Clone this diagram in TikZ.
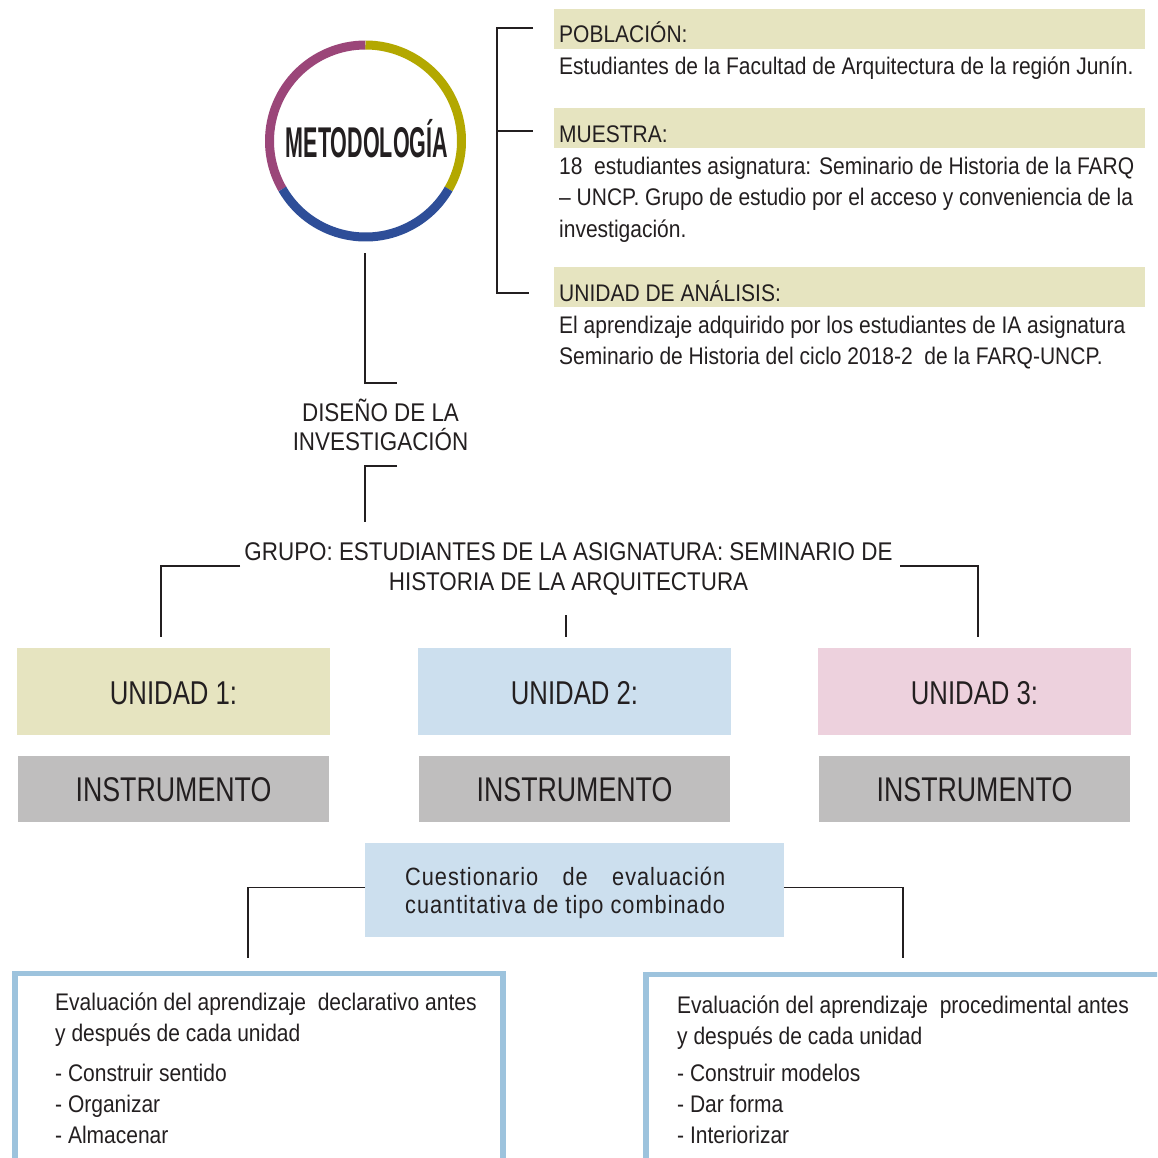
\documentclass[tikz,border=0pt]{standalone}
\usepackage{fontspec}
\setmainfont{Liberation Sans}[FakeStretch=0.875]
\newfontfamily\unifont{Liberation Sans}[FakeStretch=0.78]
\newfontfamily\metfont{Liberation Sans Bold}[FakeStretch=0.5]
\newfontfamily\cuefont{Liberation Sans}[FakeStretch=0.87,LetterSpace=4]
\definecolor{txt}{HTML}{231F20}
\definecolor{olivebg}{HTML}{E6E4C0}
\definecolor{bluebg}{HTML}{CCDFEE}
\definecolor{pinkbg}{HTML}{EDD1DD}
\definecolor{graybg}{HTML}{BFBEBE}
\definecolor{frameblue}{HTML}{9DC3DD}
\definecolor{ringpurple}{HTML}{9B4679}
\definecolor{ringyellow}{HTML}{B3A800}
\definecolor{ringblue}{HTML}{2E4E98}
\tikzset{
  body/.style={inner sep=0pt, anchor=base west, text=txt, font=\fontsize{24}{31}\selectfont},
  caps/.style={inner sep=0pt, anchor=base, text=txt, font=\fontsize{25.6}{30}\selectfont},
  bigtxt/.style={inner sep=0pt, anchor=base, text=txt, font=\unifont\fontsize{33}{33}\selectfont},
  insttxt/.style={inner sep=0pt, anchor=base, text=txt, font=\unifont\fontsize{34.3}{34}\selectfont},
  bar/.style={fill=olivebg, draw=none, inner sep=0pt, anchor=north west, minimum width=591pt, minimum height=40pt},
  unibox/.style={draw=none, inner sep=0pt, anchor=north west, minimum width=313pt, minimum height=87pt},
  instbox/.style={fill=graybg, draw=none, inner sep=0pt, anchor=north west, minimum width=311pt, minimum height=66pt},
  framebox/.style={draw=frameblue, line width=5.5pt, fill=none, inner sep=0pt, anchor=north west},
  conn/.style={draw=txt, line width=1.2pt},
  ring/.style={line width=9pt}
}
\begin{document}
\begin{tikzpicture}[x=1pt,y=-1pt]
\useasboundingbox (0,0) rectangle (1157,1158);
\clip (0,0) rectangle (1157,1158);
\fill[white] (0,0) rectangle (1157,1158);

% ---- circle
\node[circle, minimum size=192pt, inner sep=0pt] (met) at (365.5,141) {};
\draw[ring, ringpurple] ([shift={(-90:96)}]met.center) arc[start angle=-90, end angle=-210, radius=96];
\draw[ring, ringyellow] ([shift={(30:96)}]met.center) arc[start angle=30, end angle=-90, radius=96];
\draw[ring, ringblue] ([shift={(-210:96)}]met.center) arc[start angle=-210, end angle=-330, radius=96];
\node[inner sep=0pt, anchor=base, text=txt, font=\metfont\fontsize{43}{43}\selectfont] (mettxt) at (367,158) {METODOLOGÍA};

% ---- top right bracket
\node[bar] (pobbar) at (554,9) {};
\node[bar] (muebar) at (554,108) {};
\node[bar] (unabar) at (554,267) {};
\coordinate (brT) at (533,28);
\coordinate (brM) at (533,131);
\coordinate (brB) at (529,293);
\coordinate (brV) at (497,28);
\draw[conn] (brT) -- (brV) -- (brV |- brB) -- (brB);
\draw[conn] (brV |- brM) -- (brM);

\node[body] (pob) at (559,43) {POBLACIÓN:};
\node[body] (pob1) at (559,75) {Estudiantes de la Facultad de Arquitectura de la región Junín.};
\node[body] (mue) at (559,143) {MUESTRA:};
\node[body] (mue1) at (559,175) {18~ estudiantes asignatura: Seminario de Historia de la FARQ};
\node[body] (mue2) at (559,206) {– UNCP. Grupo de estudio por el acceso y conveniencia de la};
\node[body] (mue3) at (559,237) {investigación.};
\node[body] (una) at (559,301) {UNIDAD DE ANÁLISIS:};
\node[body] (una1) at (559,333) {El aprendizaje adquirido por los estudiantes de IA asignatura};
\node[body] (una2) at (559,364) {Seminario de Historia del ciclo 2018-2~ de la FARQ-UNCP.};

% ---- diseño
\coordinate (c1a) at (365,253);
\coordinate (c1b) at (397,383);
\draw[conn] (c1a) |- (c1b);
\node[caps] (dis1) at (380.5,421) {DISEÑO DE LA};
\node[caps] (dis2) at (380.5,450) {INVESTIGACIÓN};
\coordinate (c2a) at (397,466);
\coordinate (c2b) at (365,522);
\draw[conn] (c2a) -| (c2b);

% ---- grupo
\node[caps] (gr1) at (568.5,560.5) {GRUPO: ESTUDIANTES DE LA ASIGNATURA: SEMINARIO DE};
\node[caps] (gr2) at (568.5,590.5) {HISTORIA DE LA ARQUITECTURA};
\coordinate (gL) at (240,566);
\coordinate (gR) at (900,566);
\coordinate (gLd) at (161,637);
\coordinate (gRd) at (978,637);
\coordinate (gM) at (566,615);
\coordinate (gMd) at (566,637);
\draw[conn] (gL) -| (gLd);
\draw[conn] (gR) -| (gRd);
\draw[conn] (gM) -- (gMd);

% ---- unidades
\node[unibox, fill=olivebg] (u1) at (17,648) {};
\node[unibox, fill=bluebg] (u2) at (418,648) {};
\node[unibox, fill=pinkbg] (u3) at (818,648) {};
\node[bigtxt] (u1t) at (173.5,704) {UNIDAD 1:};
\node[bigtxt] (u2t) at (574.5,704) {UNIDAD 2:};
\node[bigtxt] (u3t) at (974.5,704) {UNIDAD 3:};

\node[instbox] (i1) at (18,756) {};
\node[instbox] (i2) at (419,756) {};
\node[instbox] (i3) at (819,756) {};
\node[insttxt] (i1t) at (173.5,801.5) {INSTRUMENTO};
\node[insttxt] (i2t) at (574.5,801.5) {INSTRUMENTO};
\node[insttxt] (i3t) at (974.5,801.5) {INSTRUMENTO};

% ---- cuestionario
\node[fill=bluebg, inner sep=0pt, anchor=north west, minimum width=419pt, minimum height=94pt] (cue) at (365,843) {};
\node[inner sep=0pt, anchor=base west, text=txt, font=\cuefont\fontsize{25}{28}\selectfont] (cue1) at (405,885) {\hbox to 320pt{Cuestionario\hfill de\hfill evaluación}};
\node[inner sep=0pt, anchor=base west, text=txt, font=\cuefont\fontsize{25}{28}\selectfont] (cue2) at (405,913) {cuantitativa de tipo combinado};
\coordinate (qLd) at (248,958);
\coordinate (qRd) at (903,958);
\draw[conn] ([yshift=3pt]cue.west) -| (qLd);
\draw[conn] ([yshift=3pt]cue.east) -| (qRd);

% ---- bottom frames
\node[framebox, minimum width=488pt, minimum height=300pt] (evl) at (12,970.5) {};
\node[framebox, minimum width=600pt, minimum height=300pt] (evr) at (643,971.5) {};

\node[body] (l1) at (55,1010) {Evaluación del aprendizaje~ declarativo antes};
\node[body] (l2) at (55,1041) {y después de cada unidad};
\node[body] (l3) at (55,1081) {- Construir sentido};
\node[body] (l4) at (55,1112) {- Organizar};
\node[body] (l5) at (55,1143) {- Almacenar};

\node[body] (r1) at (677,1013) {Evaluación del aprendizaje~ procedimental antes};
\node[body] (r2) at (677,1044) {y después de cada unidad};
\node[body] (r3) at (677,1081) {- Construir modelos};
\node[body] (r4) at (677,1112) {- Dar forma};
\node[body] (r5) at (677,1143) {- Interiorizar};
\end{tikzpicture}
\end{document}
